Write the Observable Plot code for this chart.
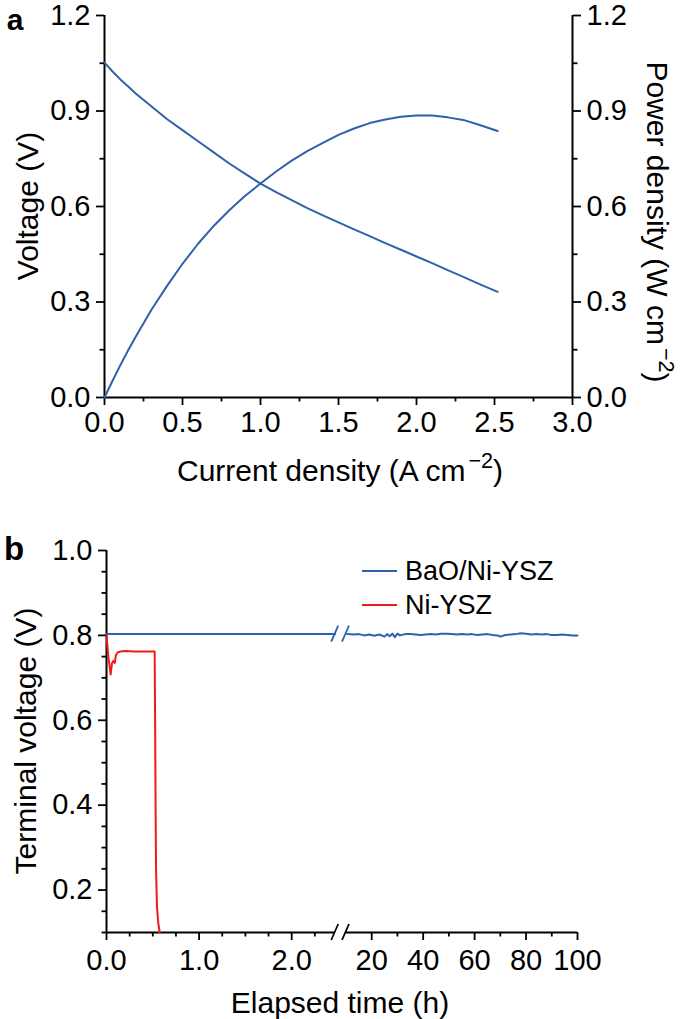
<!DOCTYPE html>
<html><head><meta charset="utf-8">
<script src="https://cdn.jsdelivr.net/npm/d3@7"></script>
<script src="https://cdn.jsdelivr.net/npm/@observablehq/plot@0.6"></script>
<style>
body{margin:0;background:#fff;}
#fig{width:685px;height:1019px;position:relative;background:#fff;}
#fig svg{display:block;}
</style></head><body><div id="fig"></div>
<script>
// ---------- Panel a data ----------
const currentDensity = [0, 0.05, 0.1, 0.15, 0.2, 0.3, 0.4, 0.5, 0.6, 0.7, 0.8, 0.9, 1.0, 1.1, 1.2, 1.3, 1.4, 1.5, 1.6, 1.7, 1.8, 1.9, 2.0, 2.1, 2.2, 2.3, 2.4, 2.52];
const voltageA = [1.052, 1.025, 1.0, 0.978, 0.955, 0.915, 0.875, 0.84, 0.805, 0.77, 0.735, 0.703, 0.672, 0.645, 0.62, 0.595, 0.572, 0.55, 0.528, 0.507, 0.485, 0.464, 0.443, 0.422, 0.4, 0.379, 0.357, 0.332];
const powerDensity = [0, 0.051, 0.1, 0.147, 0.191, 0.275, 0.35, 0.42, 0.483, 0.539, 0.588, 0.633, 0.672, 0.71, 0.744, 0.774, 0.80, 0.825, 0.845, 0.862, 0.873, 0.882, 0.886, 0.886, 0.88, 0.872, 0.857, 0.837];
const xTicksA = [0, 0.5, 1, 1.5, 2, 2.5, 3];
const xMinorA = [0.25, 0.75, 1.25, 1.75, 2.25, 2.75];
const yTicksA = [0, 0.3, 0.6, 0.9, 1.2];
const yMinorA = [0.15, 0.45, 0.75, 1.05];

// ---------- Panel b data ----------
const timeBaOLeft = [0, 0.5, 1.0, 1.5, 2.0, 2.47];
const voltBaOLeft = [0.803, 0.803, 0.803, 0.803, 0.803, 0.803];
const timeBaORight = [10.5, 13, 15, 17, 19, 21, 23, 25, 26, 27, 28, 29, 30, 31, 33, 35, 37, 39, 41, 43, 45, 47, 49, 51, 53, 55, 57, 59, 61, 63, 65, 67, 69, 70, 72, 74, 76, 78, 80, 82, 84, 86, 88, 90, 92, 94, 96, 98, 100];
const voltBaORight = [0.803, 0.802, 0.803, 0.800, 0.802, 0.799, 0.802, 0.797, 0.803, 0.798, 0.804, 0.796, 0.804, 0.800, 0.803, 0.803, 0.802, 0.801, 0.802, 0.803, 0.802, 0.804, 0.804, 0.803, 0.802, 0.803, 0.802, 0.803, 0.801, 0.802, 0.803, 0.801, 0.800, 0.797, 0.801, 0.802, 0.803, 0.805, 0.804, 0.802, 0.803, 0.802, 0.803, 0.801, 0.801, 0.802, 0.801, 0.800, 0.800];
const timeNi = [0, 0.02, 0.045, 0.06, 0.075, 0.09, 0.1, 0.12, 0.15, 0.2, 0.3, 0.4, 0.5, 0.52, 0.525, 0.53, 0.535, 0.545, 0.56, 0.575];
const voltNi = [0.8, 0.75, 0.708, 0.735, 0.74, 0.735, 0.752, 0.76, 0.762, 0.763, 0.762, 0.762, 0.762, 0.762, 0.6, 0.4, 0.25, 0.16, 0.12, 0.1];
const xTicksB = [0, 1, 2, 20, 40, 60, 80, 100];
const xMinorB = [0.25, 0.5, 0.75, 1.25, 1.5, 1.75, 2.25, 30, 50, 70, 90];
const yTicksB = [0.2, 0.4, 0.6, 0.8, 1.0];
const yMinorB = [0.1, 0.15, 0.25, 0.3, 0.35, 0.45, 0.5, 0.55, 0.65, 0.7, 0.75, 0.85, 0.9, 0.95];
const seriesNames = ["BaO/Ni-YSZ", "Ni-YSZ"];

// ---------- styling ----------
const FONT = '"Liberation Sans", Arial, Helvetica, sans-serif';
const FS = 29;      // tick labels
const TS = 30;      // axis titles
const blue = "#2f62ab", red = "#f01c1c";
const AX = 1.8;

const curveA = currentDensity.map((x, i) => ({I: x, V: voltageA[i], P: powerDensity[i]}));

function tickAxes(axisFn, major, minor, fmt, extra) {
  return [
    axisFn({ticks: major, tickSize: 8, tickPadding: 6, tickFormat: fmt, label: null, strokeWidth: AX, fontSize: FS, ...extra}),
    axisFn({ticks: minor, tickSize: 4.5, tickFormat: () => "", label: null, strokeWidth: AX, ...extra})
  ];
}

const chartA = Plot.plot({
  width: 685, height: 500,
  marginTop: 15, marginBottom: 103, marginLeft: 104, marginRight: 113,
  style: {fontFamily: FONT, fontSize: FS + "px", color: "#000", background: "#fff", overflow: "visible"},
  x: {domain: [0, 3]},
  y: {domain: [0, 1.2]},
  marks: [
    ...tickAxes(Plot.axisX, xTicksA, xMinorA, d3.format(".1f"), {anchor: "bottom"}),
    ...tickAxes(Plot.axisY, yTicksA, yMinorA, d3.format(".1f"), {anchor: "left"}),
    ...tickAxes(Plot.axisY, yTicksA, yMinorA, d3.format(".1f"), {anchor: "right"}),
    Plot.ruleX([0, 3], {strokeWidth: 2}),
    Plot.ruleY([0], {strokeWidth: 2}),
    Plot.line(curveA, {x: "I", y: "V", stroke: blue, strokeWidth: 2}),
    Plot.line(curveA, {x: "I", y: "P", stroke: blue, strokeWidth: 2})
  ]
});

const baoData = [
  ...timeBaOLeft.map((t, i) => ({t, v: voltBaOLeft[i], seg: "L"})),
  ...timeBaORight.map((t, i) => ({t, v: voltBaORight[i], seg: "R"}))
];
const niData = timeNi.map((t, i) => ({t, v: voltNi[i]}));
const axisSegs = [{x1: 0, x2: 2.47}, {x1: 10, x2: 100}];

const chartB = Plot.plot({
  width: 685, height: 519,
  marginTop: 50, marginBottom: 87, marginLeft: 106, marginRight: 108,
  style: {fontFamily: FONT, fontSize: FS + "px", color: "#000", background: "#fff", overflow: "visible"},
  x: {type: "linear", domain: [0, 2.5, 10, 100], range: [106, 337.5, 345.5, 577]},
  y: {domain: [0.1, 1.0]},
  marks: [
    ...tickAxes(Plot.axisX, xTicksB, xMinorB, d => d < 10 ? d3.format(".1f")(d) : String(d), {anchor: "bottom", tickPadding: 9}),
    ...tickAxes(Plot.axisY, yTicksB, yMinorB, d3.format(".1f"), {anchor: "left"}),
    Plot.ruleX([0], {strokeWidth: 2}),
    Plot.ruleY(axisSegs, {y: 0.1, x1: "x1", x2: "x2", strokeWidth: 2}),
    Plot.line(baoData, {x: "t", y: "v", z: "seg", stroke: blue, strokeWidth: 2}),
    Plot.line(niData, {x: "t", y: "v", stroke: red, strokeWidth: 2})
  ]
});

// ---------- annotations (titles, superscripts, break marks, legend) ----------
function addText(svg, {x, y, rotate = 0, anchor = "middle", size = TS, weight = "normal", parts}) {
  const t = d3.select(svg).append("text")
    .attr("transform", `translate(${x},${y}) rotate(${rotate})`)
    .attr("text-anchor", anchor)
    .attr("font-family", FONT)
    .attr("font-size", size)
    .attr("font-weight", weight)
    .attr("fill", "#000")
    .attr("dy", "0.35em");
  let shifted = false;
  for (const p of parts) {
    if (typeof p === "string") {
      const s = t.append("tspan").text(p);
      if (shifted) { s.attr("dy", size * 0.42); shifted = false; }
    } else {
      t.append("tspan").text(p.sup).attr("font-size", size * 0.72).attr("dy", -size * 0.42).attr("dx", 3);
      shifted = true;
    }
  }
  return t;
}

addText(chartA, {x: 15, y: 19, anchor: "middle", size: 30, weight: "bold", parts: ["a"]});
addText(chartA, {x: 27, y: 206, rotate: -90, parts: ["Voltage (V)"]});
addText(chartA, {x: 657, y: 222, rotate: 90, parts: ["Power density (W cm", {sup: "\u22122"}, ")"]});
addText(chartA, {x: 340, y: 470, parts: ["Current density (A cm", {sup: "\u22122"}, ")"]});

addText(chartB, {x: 14, y: 48, anchor: "middle", size: 33, weight: "bold", parts: ["b"]});
addText(chartB, {x: 25, y: 241, rotate: -90, parts: ["Terminal voltage (V)"]});
addText(chartB, {x: 340, y: 502, parts: ["Elapsed time (h)"]});

// break marks
const sx = chartB.scale("x"), sy = chartB.scale("y");
const gB = d3.select(chartB).append("g").attr("stroke-width", 1.8).attr("fill", "none");
for (const xv of [2.47, 10]) {
  const px = sx.apply(xv);
  const py = sy.apply(0.1);
  gB.append("line").attr("x1", px - 3.5).attr("y1", py + 8).attr("x2", px + 3.5).attr("y2", py - 8).attr("stroke", "#000");
  const py2 = sy.apply(0.803);
  gB.append("line").attr("x1", px - 3.5).attr("y1", py2 + 8).attr("x2", px + 3.5).attr("y2", py2 - 8).attr("stroke", blue);
}

// legend
const legend = d3.select(chartB).append("g");
[[seriesNames[0], blue, 71], [seriesNames[1], red, 105]].forEach(([name, col, y]) => {
  legend.append("line").attr("x1", 362).attr("x2", 397).attr("y1", y).attr("y2", y).attr("stroke", col).attr("stroke-width", 2);
  addText(chartB, {x: 405, y, anchor: "start", size: 27, parts: [name]});
});

document.getElementById("fig").append(chartA, chartB);
</script></body></html>
